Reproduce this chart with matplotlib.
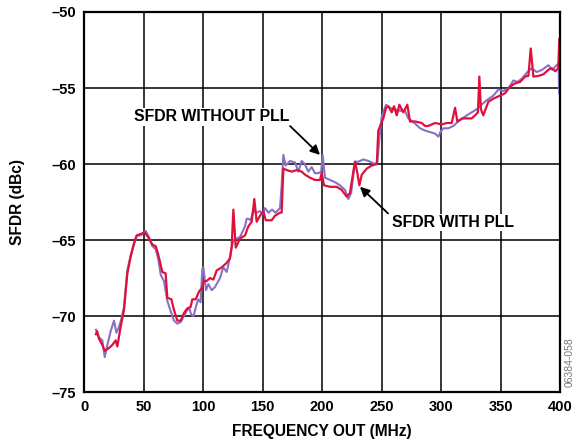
import numpy as np
import matplotlib.pyplot as plt

plt.rcParams['font.family'] = ['Liberation Sans', 'DejaVu Sans']

# SFDR with PLL (red)
freq_pll = [10, 11, 12.6, 15.4, 17.4, 21, 23.8, 26.6, 28, 30.8, 33.6, 36.4, 39.2, 42, 44.3,
            47.6, 51, 54.6, 57.4, 60.2, 62.2, 65.8, 68.6, 70, 73.4, 75.6, 78.4, 81.2, 84, 86.8,
            89.6, 91, 93.8, 96.6, 99.4, 100.8, 103, 105.9, 108.7, 111.5, 115.7, 119.9, 122.7,
            124.1, 125.5, 127.5, 131.1, 135.3, 138.1, 140.9, 143.1, 145.1, 147.9, 150.7, 152.7,
            157.7, 160.5, 164.7, 166.1, 167.5, 170.3, 174.5, 178.7, 182.9, 185.7, 189.9, 194.1,
            198.3, 199.7, 201.7, 206.7, 212.3, 216.5, 220.7, 223.5, 226.3, 227.7, 229.7, 231.4,
            233.4, 237.6, 241.8, 246, 247.3, 251.5, 253.8, 255.7, 258.6, 260.5, 262.8, 265,
            268.3, 271.7, 273.9, 278.2, 283.8, 286.6, 289.3, 295, 300.6, 304.8, 309, 311.8,
            313.7, 317.9, 321.6, 325.8, 328.6, 331, 332.2, 333.5, 335.5, 339.8, 344, 349.6,
            353.8, 358, 362.2, 366.4, 370.6, 373.4, 375.4, 377.6, 382, 386, 390.2, 393, 396,
            398.5, 399.4]
sfdr_pll = [-71.2, -71.0, -71.5, -71.9, -72.3, -72.1, -71.9, -71.6, -72.0, -70.7, -69.6, -67.2,
            -66.1, -65.2, -64.7, -64.6, -64.5, -64.9, -65.3, -65.4, -65.9, -67.1, -67.2, -68.8,
            -68.9, -69.6, -70.3, -70.3, -69.8, -69.5, -69.4, -68.9, -68.9, -68.4, -68.1, -67.7,
            -67.7, -67.5, -67.6, -67.0, -66.8, -66.5, -66.2, -65.4, -63.0, -65.5, -64.9, -64.7,
            -64.1, -63.8, -62.3, -63.8, -63.4, -63.1, -63.7, -63.7, -63.4, -63.2, -63.2, -60.3,
            -60.4, -60.5, -60.4, -60.5, -60.7, -60.9, -61.05, -61.05, -60.6, -61.4, -61.5, -61.5,
            -61.7, -62.15, -61.9, -60.5, -59.85, -60.6, -61.4, -60.7, -60.3, -60.1, -60.0, -57.8,
            -57.0, -56.3, -56.2, -56.6, -56.2, -56.8, -56.1, -56.6, -56.1, -57.2, -57.2, -57.3,
            -57.5, -57.5, -57.3, -57.4, -57.3, -57.3, -56.3, -57.2, -57.0, -57.0, -57.0, -56.8,
            -56.6, -54.25, -56.4, -56.8, -55.9, -55.7, -55.5, -55.35, -54.9, -54.7, -54.6, -54.25,
            -54.2, -52.4, -54.25, -54.2, -54.1, -53.8, -53.7, -53.9, -53.7, -51.8]

# SFDR without PLL (purple)
freq_nopll = [10, 12.6, 15.4, 17.4, 19.6, 22.4, 25.2, 27.2, 29, 31, 33.6, 36.4, 39.2, 42, 44.3,
              47.6, 51.8, 54.6, 57.4, 60.2, 62.5, 64.5, 67.2, 70, 72.5, 75.6, 78.4, 81.2, 84,
              86.8, 88.5, 90, 92, 94, 96, 98, 99.4, 100.3, 102.5, 104.5, 107.3, 110, 114.3, 117,
              119.9, 122.5, 124.1, 125.5, 128.5, 131.1, 135.3, 136.7, 138.1, 140, 142.3, 145,
              147.9, 150, 152.1, 155, 158, 161, 164.7, 166, 167.5, 169.5, 173.1, 177.3, 180.1,
              182.9, 185.5, 188.5, 191.3, 194, 197, 199.3, 200.5, 202.5, 206.7, 211, 215.1, 219.3,
              222.1, 224.5, 227.7, 230.5, 234.7, 239, 244.5, 246.5, 248, 250.1, 253.8, 257, 260.9,
              265.5, 269.7, 272.5, 276, 279, 282.4, 286.6, 290.8, 295, 297.8, 299.5, 301.9, 306,
              310.3, 314.5, 318, 321.6, 325.8, 330, 334.1, 338.4, 344, 348.2, 352.5, 357, 360.8,
              364, 367.8, 372, 376.2, 380.4, 385, 390.2, 393.5, 397.2, 398.6, 399.4]
sfdr_nopll = [-70.9, -71.4, -71.6, -72.7, -71.9, -71.0, -70.3, -71.1, -70.8, -70.3, -69.4, -67.0,
              -66.0, -65.3, -64.7, -64.7, -64.4, -64.8, -65.4, -65.6, -66.3, -67.3, -67.7, -69.0,
              -69.6, -70.3, -70.5, -70.4, -70.0, -69.6, -69.5, -69.9, -70.0, -69.4, -68.9, -69.1,
              -66.9, -66.8, -68.3, -67.9, -68.3, -68.1, -67.5, -66.8, -67.1, -66.2, -65.5, -65.0,
              -64.9, -64.8, -64.1, -63.6, -63.6, -63.7, -63.1, -63.2, -63.1, -63.3, -62.9, -63.2,
              -63.0, -63.2, -62.9, -61.5, -59.4, -60.1, -59.8, -59.9, -60.5, -59.8, -60.0, -60.5,
              -60.2, -60.6, -60.6, -60.5, -59.4, -60.9, -61.05, -61.2, -61.4, -61.7, -62.3, -61.9,
              -59.85, -59.85, -59.7, -59.8, -60.0, -59.9, -58.5, -56.9, -56.1, -56.3, -56.4, -56.5,
              -56.5, -57.0, -57.2, -57.4, -57.65, -57.8, -57.9, -58.0, -58.2, -57.9, -57.65,
              -57.65, -57.5, -57.2, -57.0, -56.8, -56.6, -56.4, -56.1, -55.8, -55.5, -55.1, -55.2,
              -55.0, -54.5, -54.6, -54.4, -54.0, -53.7, -53.95, -53.8, -53.5, -53.8, -53.5, -53.4,
              -55.35]

xticks = [0, 50, 100, 150, 200, 250, 300, 350, 400]
yticks = [-75, -70, -65, -60, -55, -50]

fig = plt.figure(figsize=(5.77, 4.44), dpi=100)
ax = fig.add_axes([0.1456, 0.117, 0.825, 0.856])

ax.plot(freq_nopll, sfdr_nopll, color='#8a70c4', lw=1.5)
ax.plot(freq_pll, sfdr_pll, color='#e0103a', lw=1.6)

ax.set_xlim(0, 400)
ax.set_ylim(-75, -50)
ax.set_xticks(xticks)
ax.set_yticks(yticks)
ax.set_xticklabels([str(t) for t in xticks], fontweight='bold', fontsize=10.5)
ax.set_yticklabels(['\u2013' + str(-t) for t in yticks], fontweight='bold', fontsize=10.5)
ax.tick_params(length=0, pad=6)
ax.grid(True, color='black', lw=1.1)
for s in ax.spines.values():
    s.set_linewidth(1.6)

ax.set_xlabel('FREQUENCY OUT (MHz)', fontweight='bold', fontsize=11.2, labelpad=7)
ax.set_ylabel('SFDR (dBc)', fontweight='bold', fontsize=11.2, labelpad=19)

arrow = dict(arrowstyle='-|>', color='black', lw=1.3, shrinkA=0, shrinkB=0, mutation_scale=14)
ax.text(107, -56.9, 'SFDR WITHOUT PLL', fontsize=11.4, fontweight='bold', va='center',
        ha='center', bbox=dict(facecolor='white', edgecolor='none', pad=1))
ax.annotate('', xy=(198.3, -59.4), xytext=(173.1, -57.5), arrowprops=arrow)
ax.annotate('', xy=(231.9, -61.5), xytext=(255.5, -63.25), arrowprops=arrow)
ax.text(310, -63.85, 'SFDR WITH PLL', fontsize=11.4, fontweight='bold', va='center',
        ha='center', bbox=dict(facecolor='white', edgecolor='none', pad=1))

fig.text(0.988, 0.185, '06384-058', rotation=90, fontsize=7.5, color='#777777',
         ha='center', va='center')

fig.savefig('out.png', dpi=100)
